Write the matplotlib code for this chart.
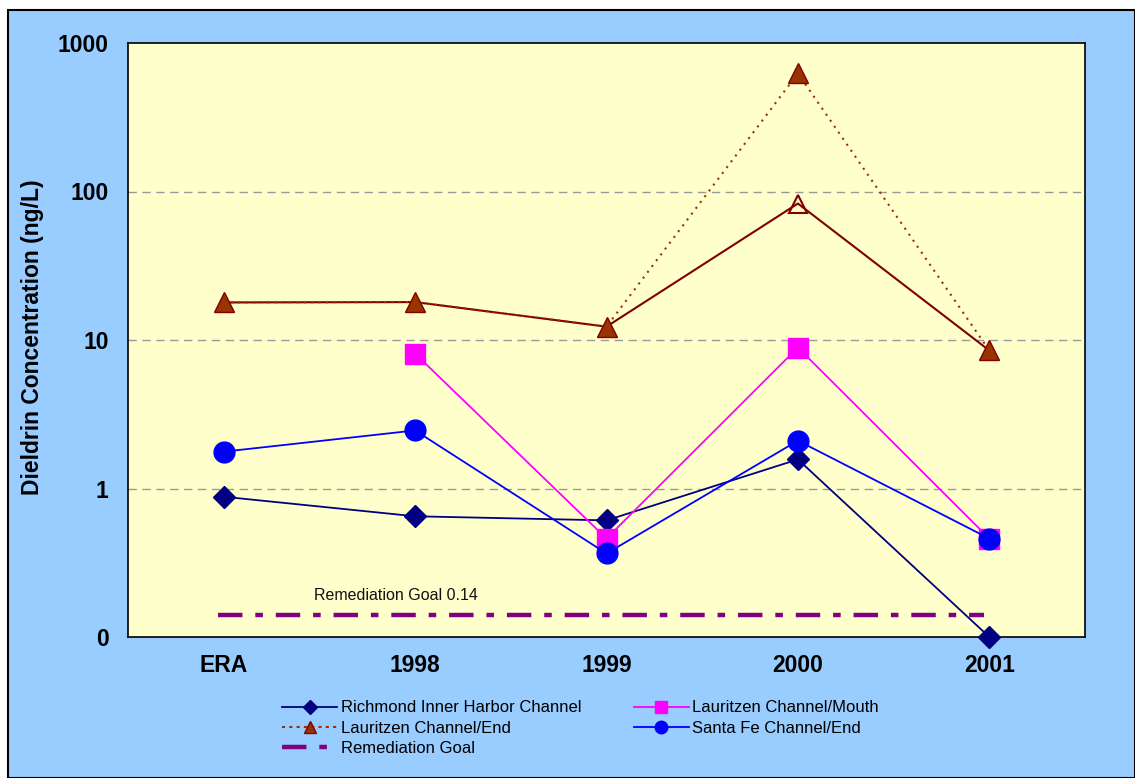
import matplotlib
matplotlib.use("Agg")
import matplotlib.pyplot as plt
import numpy as np

plt.rcParams["font.family"] = ["Liberation Sans", "DejaVu Sans"]

# sampling events and dieldrin results (ng/L); 0.1 sits on the "0" baseline
years = ["ERA", "1998", "1999", "2000", "2001"]
richmond = [0.88, 0.65, 0.61, 1.57, 0.1]
laur_mouth = [np.nan, 8.1, 0.46, 8.9, 0.46]
laur_end = [17.9, 18.0, 12.3, 624, 8.5]
laur_end_alt = [17.9, 18.0, 12.3, 83, 8.5]
santa_fe = [1.77, 2.46, 0.365, 2.1, 0.46]
goal = 0.14

yticks = [0.1, 1, 10, 100, 1000]
ytick_labels = ["0", "1", "10", "100", "1000"]

x = np.arange(len(years)) + 0.5

fig = plt.figure(figsize=(11.35, 7.78), dpi=100)
fig.patch.set_facecolor("white")

# light blue chart area with black frame
bg = plt.Rectangle((8 / 1135, 0), 1 - 8 / 1135, 1 - 10 / 778, transform=fig.transFigure,
                   facecolor="#99CCFF", edgecolor="black", linewidth=1.5, zorder=-10)
fig.patches.append(bg)

ax = fig.add_axes([128 / 1135, 1 - 637 / 778, (1085 - 128) / 1135, (637 - 43) / 778])
ax.set_facecolor("#FFFFCC")
ax.set_yscale("log")
ax.set_ylim(0.1, 1000)
ax.set_xlim(0, 5)

for v in [1, 10, 100]:
    ax.axhline(v, color="#999999", linestyle=(0, (6, 4)), linewidth=1, zorder=1)

# remediation goal line
ax.plot([x[0] - 0.03, x[-1] - 0.03], [goal, goal], color="#800080", linewidth=3.2,
        linestyle=(0, (5.5, 2.9, 1.7, 2.9)), solid_capstyle="butt", zorder=2)
ax.text(x[0] + 0.9, 0.19, "Remediation Goal 0.14", fontsize=11.5, ha="center", va="center",
        color="#111111")

ax.plot(x, laur_end_alt, color="#800000", linewidth=1.5, zorder=3)
ax.plot(x[3], laur_end_alt[3], marker="^", markersize=13, markerfacecolor="none",
        markeredgecolor="#800000", markeredgewidth=1.5, linestyle="none", zorder=4)

ax.plot(x, richmond, color="#000080", linewidth=1.3, marker="D", markersize=11,
        markerfacecolor="#000080", markeredgecolor="#000080", zorder=5,
        clip_on=False)
ax.plot(x, laur_mouth, color="#FF00FF", linewidth=1.3, marker="s", markersize=15,
        markerfacecolor="#FF00FF", markeredgecolor="#FF00FF", zorder=5)
ax.plot(x, laur_end, color="#993300", linewidth=1.5, linestyle=(0, (1, 2.5)), marker="^",
        markersize=14, markerfacecolor="#993300", markeredgecolor="#800000", zorder=6)
ax.plot(x, santa_fe, color="#0000FF", linewidth=1.3, marker="o", markersize=15,
        markerfacecolor="#0000FF", markeredgecolor="#0000FF", zorder=7)

ax.set_yticks(yticks)
ax.set_yticklabels(ytick_labels)
ax.yaxis.set_minor_locator(matplotlib.ticker.NullLocator())
ax.set_xticks(x)
ax.set_xticklabels(years)
ax.tick_params(axis="both", length=0, labelsize=16.5)
ax.tick_params(axis="x", pad=12)
ax.tick_params(axis="y", pad=14)
for lbl in ax.get_xticklabels() + ax.get_yticklabels():
    lbl.set_fontweight("bold")
for sp in ax.spines.values():
    sp.set_color("black")
    sp.set_linewidth(1.2)

ax.set_ylabel("Dieldrin Concentration (ng/L)", fontsize=16.5, fontweight="bold")
ax.yaxis.set_label_coords(-84 / 957, 0.505)

# legend entries
h_rich = plt.Line2D([], [], color="#000080", linewidth=1.3, marker="D", markersize=7)
h_mouth = plt.Line2D([], [], color="#FF00FF", linewidth=1.3, marker="s", markersize=9)
h_end = plt.Line2D([], [], color="#993300", linewidth=1.5, linestyle=(0, (1.5, 2)),
                   marker="^", markersize=9, markeredgecolor="#800000")
h_sf = plt.Line2D([], [], color="#0000FF", linewidth=1.3, marker="o", markersize=9)
h_goal = plt.Line2D([], [], color="#800080", linewidth=3.2,
                    linestyle=(0, (5.5, 2.9, 1.7, 2.9)))

fig.legend([h_rich, h_end, h_goal, h_mouth, h_sf],
           ["Richmond Inner Harbor Channel", "Lauritzen Channel/End", "Remediation Goal",
            "Lauritzen Channel/Mouth", "Santa Fe Channel/End"],
           ncol=2, loc="upper left", bbox_to_anchor=(274 / 1135, 1 - 692 / 778),
           frameon=False, fontsize=12, handlelength=3.3, handletextpad=0.2,
           columnspacing=3.15, labelspacing=0.32, borderpad=0)

fig.savefig("out.png", dpi=100, facecolor=fig.get_facecolor())
